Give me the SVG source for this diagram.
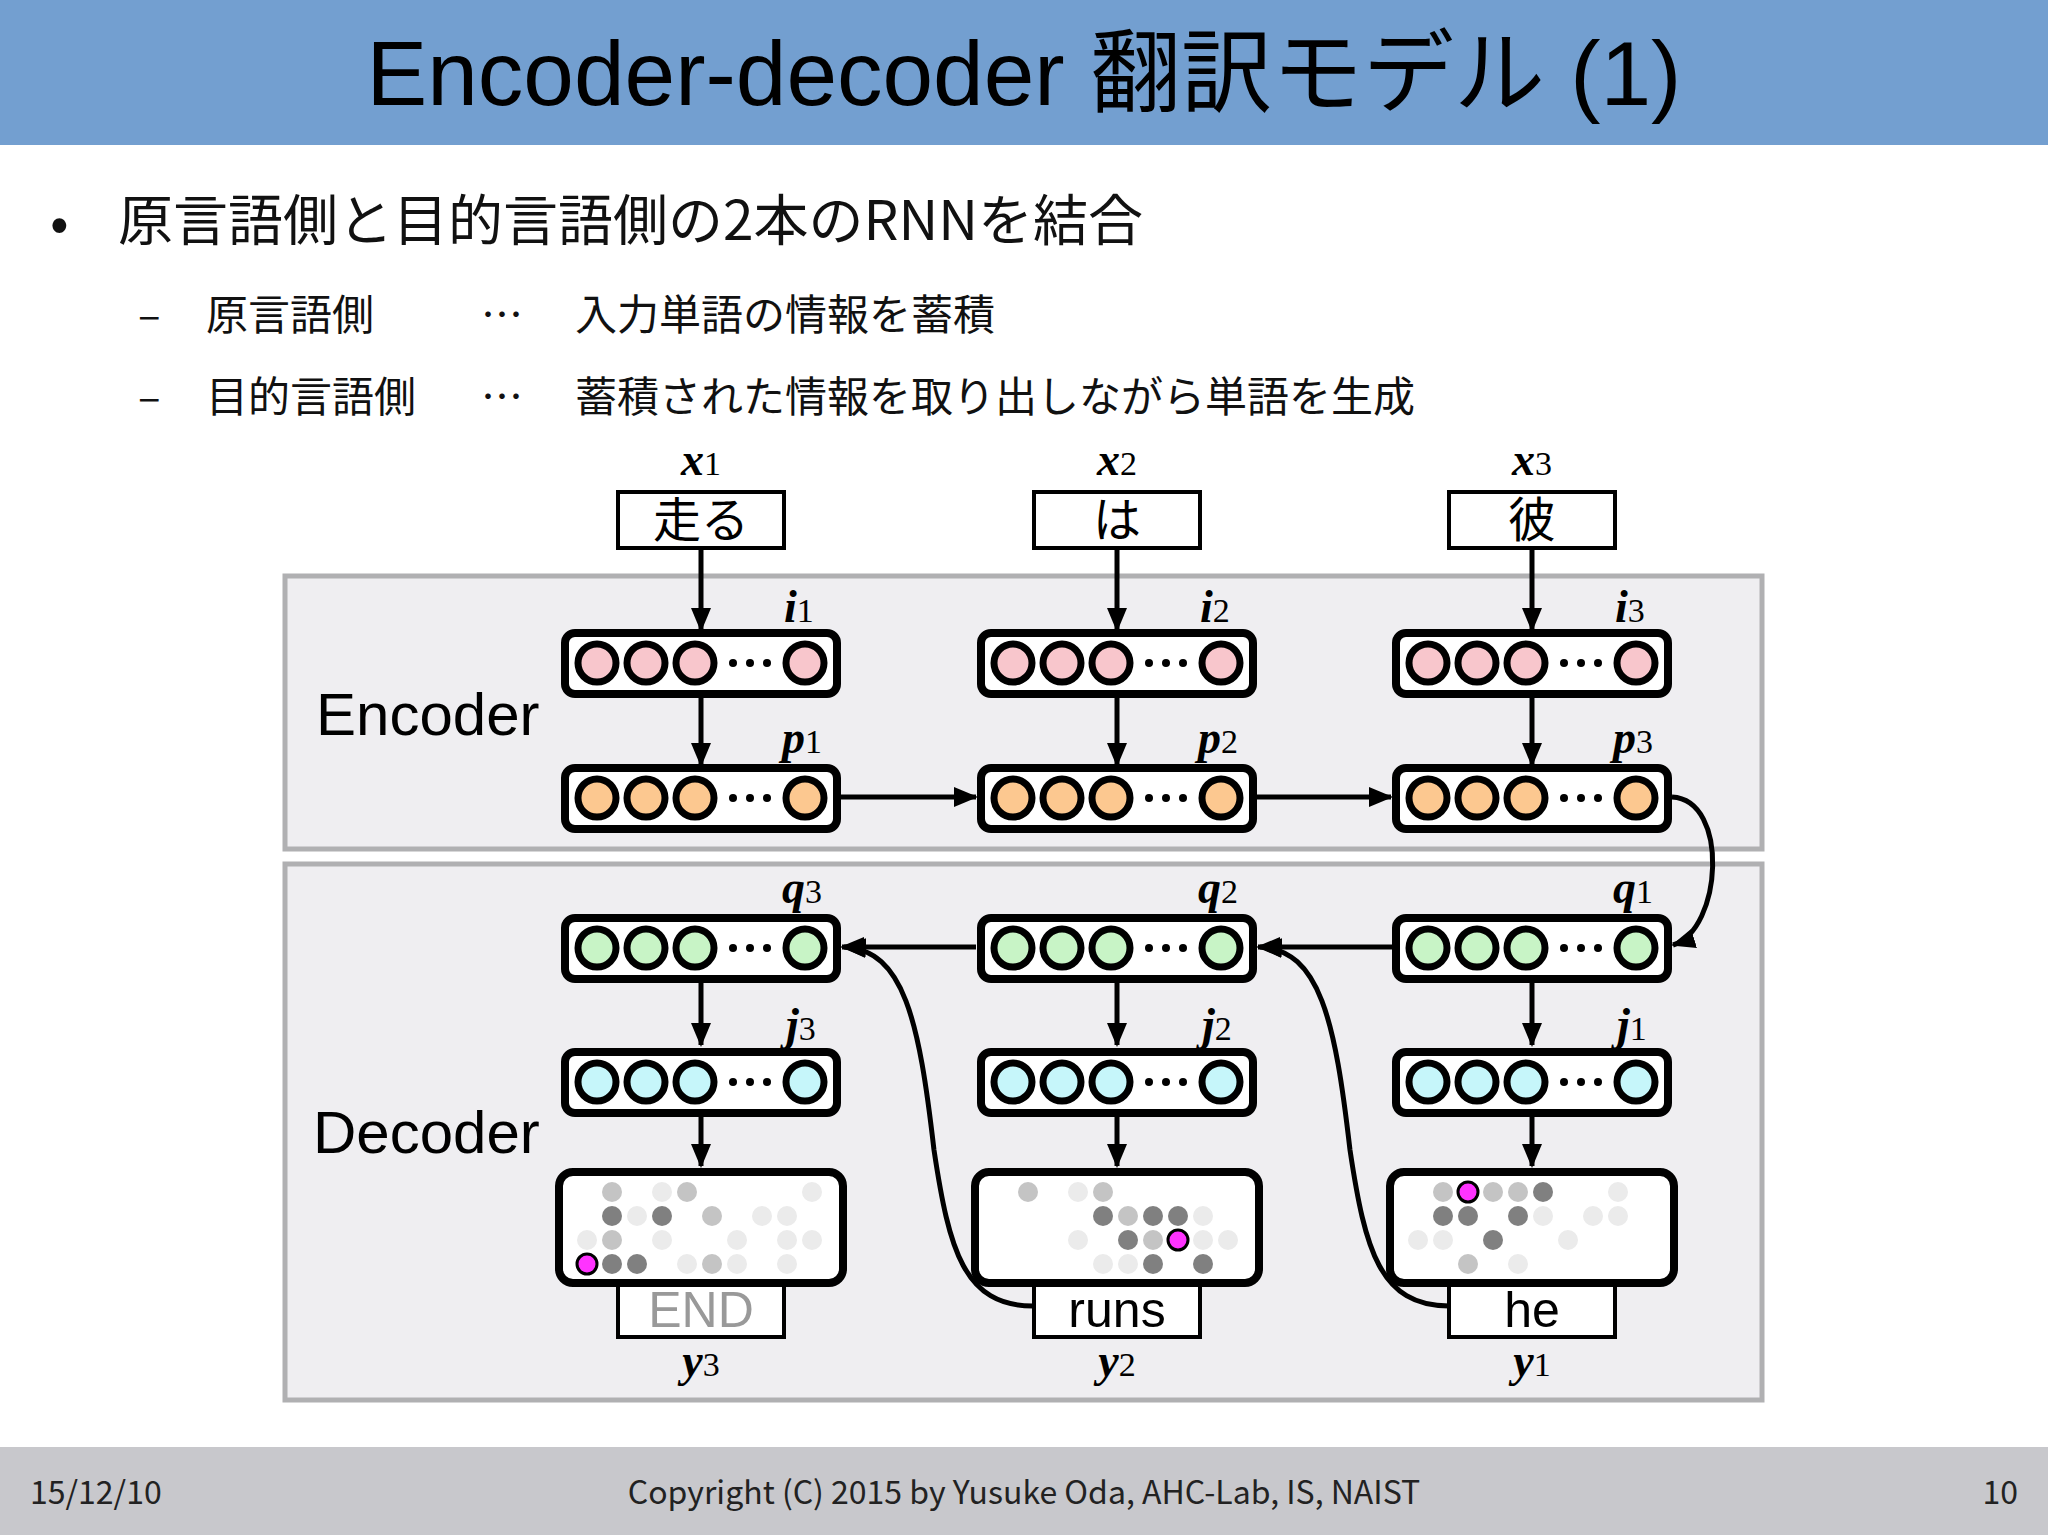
<svg xmlns="http://www.w3.org/2000/svg" xmlns:xlink="http://www.w3.org/1999/xlink" width="2048" height="1535" viewBox="0 0 2048 1535">
<style>
.sans{font-family:"Liberation Sans","Noto Sans CJK JP",sans-serif}
.jp{font-family:"Noto Sans CJK JP",sans-serif}
.math{font-family:"Liberation Serif","DejaVu Serif",serif;font-weight:bold;font-style:italic;font-size:46px}
.sub{font-weight:normal;font-style:normal;font-size:34px}
.panel{fill:#efeef1;stroke:#b0b0b2;stroke-width:5}
.ibox{fill:#fff;stroke:#000;stroke-width:4}
.arr{fill:none;stroke:#000;stroke-width:5;marker-end:url(#ah)}
.sm{fill:#fff;stroke:#000;stroke-width:8}
.d1{fill:#ebebeb}.d2{fill:#c4c4c4}.d3{fill:#808080}
.mg{fill:#ff33ff;stroke:#000;stroke-width:3}
</style>
<defs>
<marker id="ah" markerUnits="userSpaceOnUse" markerWidth="24" markerHeight="20" refX="22" refY="10" orient="auto"><path d="M0,0 L24,10 L0,20 z" fill="#000"/></marker>
<g id="vec">
<rect x="-136" y="-30" width="272" height="61" rx="10" fill="#fff" stroke="#000" stroke-width="8"/>
<circle cx="-104" cy="0" r="19" stroke="#000" stroke-width="7"/>
<circle cx="-55" cy="0" r="19" stroke="#000" stroke-width="7"/>
<circle cx="-6" cy="0" r="19" stroke="#000" stroke-width="7"/>
<circle cx="104" cy="0" r="19" stroke="#000" stroke-width="7"/>
<circle cx="32" cy="0" r="4" fill="#000"/><circle cx="49" cy="0" r="4" fill="#000"/><circle cx="66" cy="0" r="4" fill="#000"/>
</g>
</defs>
<rect width="2048" height="1535" fill="#fff"/>
<g id="header"><rect width="2048" height="145" fill="#739fd0"/>
<text x="1024" y="105" text-anchor="middle" class="sans" font-size="91" fill="#000">Encoder-decoder 翻訳モデル (1)</text></g>
<g id="footer"><rect y="1447" width="2048" height="88" fill="#c8c8cc"/>
<text x="30" y="1504" class="jp" font-size="32" fill="#222">15/12/10</text>
<text x="1024" y="1504" text-anchor="middle" class="jp" font-size="32" fill="#222">Copyright (C) 2015 by Yusuke Oda, AHC-Lab, IS, NAIST</text>
<text x="2018" y="1504" text-anchor="end" class="jp" font-size="32" fill="#222">10</text></g>
<g id="bullets" class="jp" fill="#111">
<text x="50" y="242" font-size="55">•</text>
<text x="118" y="240" font-size="55">原言語側と目的言語側の2本のRNNを結合</text>
<text x="138" y="330" font-size="42">–</text>
<text x="206" y="330" font-size="42">原言語側</text>
<text x="481" y="330" font-size="42">…</text>
<text x="575" y="330" font-size="42">入力単語の情報を蓄積</text>
<text x="138" y="412" font-size="42">–</text>
<text x="206" y="412" font-size="42">目的言語側</text>
<text x="481" y="412" font-size="42">…</text>
<text x="575" y="412" font-size="42">蓄積された情報を取り出しながら単語を生成</text>
</g>
<g id="encoder-panel"><rect x="285" y="576" width="1477" height="273" class="panel"/>
<text x="316" y="735" class="sans" font-size="60">Encoder</text></g>
<g id="decoder-panel"><rect x="285" y="864" width="1477" height="536" class="panel"/>
<text x="313" y="1153" class="sans" font-size="60">Decoder</text></g>

<g id="connectors">
<path class="arr" d="M701,548 V630"/><path class="arr" d="M1117,548 V630"/><path class="arr" d="M1532,548 V630"/>
<path class="arr" d="M701,697 V765"/><path class="arr" d="M1117,697 V765"/><path class="arr" d="M1532,697 V765"/>
<path class="arr" d="M841,797 H976"/><path class="arr" d="M1257,797 H1391"/>
<path class="arr" d="M1672,797 C1730,800 1722,930 1673,945"/>
<path class="arr" d="M1392,947 H1258"/><path class="arr" d="M976,947 H842"/>
<path class="arr" d="M1449,1306 C1380,1306 1365,1250 1350,1150 C1335,1020 1320,950 1260,947"/>
<path class="arr" d="M1033,1306 C964,1306 949,1250 934,1150 C919,1020 904,950 844,947"/>
<path class="arr" d="M701,982 V1045"/><path class="arr" d="M1117,982 V1045"/><path class="arr" d="M1532,982 V1045"/>
<path class="arr" d="M701,1116 V1166"/><path class="arr" d="M1117,1116 V1166"/><path class="arr" d="M1532,1116 V1166"/>
</g>

<g id="x1"><rect x="618" y="492" width="166" height="56" class="ibox"/><text x="701" y="537" text-anchor="middle" class="jp" font-size="48">走る</text><text x="701" y="475" text-anchor="middle" class="math">x<tspan class="sub">1</tspan></text></g>
<g id="x2"><rect x="1034" y="492" width="166" height="56" class="ibox"/><text x="1117" y="537" text-anchor="middle" class="jp" font-size="48">は</text><text x="1117" y="475" text-anchor="middle" class="math">x<tspan class="sub">2</tspan></text></g>
<g id="x3"><rect x="1449" y="492" width="166" height="56" class="ibox"/><text x="1532" y="537" text-anchor="middle" class="jp" font-size="48">彼</text><text x="1532" y="475" text-anchor="middle" class="math">x<tspan class="sub">3</tspan></text></g>

<g id="i1"><use xlink:href="#vec" x="701" y="663" fill="#f8c6cc"/><text x="784" y="622" class="math">i<tspan class="sub">1</tspan></text></g>
<g id="i2"><use xlink:href="#vec" x="1117" y="663" fill="#f8c6cc"/><text x="1200" y="622" class="math">i<tspan class="sub">2</tspan></text></g>
<g id="i3"><use xlink:href="#vec" x="1532" y="663" fill="#f8c6cc"/><text x="1615" y="622" class="math">i<tspan class="sub">3</tspan></text></g>
<g id="p1"><use xlink:href="#vec" x="701" y="798" fill="#fcc890"/><text x="782" y="753" class="math">p<tspan class="sub">1</tspan></text></g>
<g id="p2"><use xlink:href="#vec" x="1117" y="798" fill="#fcc890"/><text x="1198" y="753" class="math">p<tspan class="sub">2</tspan></text></g>
<g id="p3"><use xlink:href="#vec" x="1532" y="798" fill="#fcc890"/><text x="1613" y="753" class="math">p<tspan class="sub">3</tspan></text></g>
<g id="q3"><use xlink:href="#vec" x="701" y="948" fill="#c8f4c6"/><text x="782" y="903" class="math">q<tspan class="sub">3</tspan></text></g>
<g id="q2"><use xlink:href="#vec" x="1117" y="948" fill="#c8f4c6"/><text x="1198" y="903" class="math">q<tspan class="sub">2</tspan></text></g>
<g id="q1"><use xlink:href="#vec" x="1532" y="948" fill="#c8f4c6"/><text x="1613" y="903" class="math">q<tspan class="sub">1</tspan></text></g>
<g id="j3"><use xlink:href="#vec" x="701" y="1082" fill="#c6f6fa"/><text x="786" y="1040" class="math">j<tspan class="sub">3</tspan></text></g>
<g id="j2"><use xlink:href="#vec" x="1117" y="1082" fill="#c6f6fa"/><text x="1202" y="1040" class="math">j<tspan class="sub">2</tspan></text></g>
<g id="j1"><use xlink:href="#vec" x="1532" y="1082" fill="#c6f6fa"/><text x="1617" y="1040" class="math">j<tspan class="sub">1</tspan></text></g>

<g id="y3"><rect x="618" y="1283" width="166" height="54" class="ibox"/><text x="701" y="1327" text-anchor="middle" class="sans" font-size="50" fill="#999">END</text><text x="701" y="1376" text-anchor="middle" class="math">y<tspan class="sub">3</tspan></text>
<rect x="559" y="1172" width="284" height="111" rx="14" class="sm"/>
<g transform="translate(587,0)">
<circle cx="25" cy="1192" r="10" class="d2"/><circle cx="75" cy="1192" r="10" class="d1"/><circle cx="100" cy="1192" r="10" class="d2"/><circle cx="225" cy="1192" r="10" class="d1"/>
<circle cx="25" cy="1216" r="10" class="d3"/><circle cx="50" cy="1216" r="10" class="d1"/><circle cx="75" cy="1216" r="10" class="d3"/><circle cx="125" cy="1216" r="10" class="d2"/><circle cx="175" cy="1216" r="10" class="d1"/><circle cx="200" cy="1216" r="10" class="d1"/>
<circle cx="0" cy="1240" r="10" class="d1"/><circle cx="25" cy="1240" r="10" class="d2"/><circle cx="75" cy="1240" r="10" class="d1"/><circle cx="150" cy="1240" r="10" class="d1"/><circle cx="200" cy="1240" r="10" class="d1"/><circle cx="225" cy="1240" r="10" class="d1"/>
<circle cx="25" cy="1264" r="10" class="d3"/><circle cx="50" cy="1264" r="10" class="d3"/><circle cx="100" cy="1264" r="10" class="d1"/><circle cx="125" cy="1264" r="10" class="d2"/><circle cx="150" cy="1264" r="10" class="d1"/><circle cx="200" cy="1264" r="10" class="d1"/>
<circle cx="0" cy="1264" r="10" class="mg"/></g></g>

<g id="y2"><rect x="1034" y="1283" width="166" height="54" class="ibox"/><text x="1117" y="1327" text-anchor="middle" class="sans" font-size="50" fill="#000">runs</text><text x="1117" y="1376" text-anchor="middle" class="math">y<tspan class="sub">2</tspan></text>
<rect x="975" y="1172" width="284" height="111" rx="14" class="sm"/>
<g transform="translate(1003,0)">
<circle cx="25" cy="1192" r="10" class="d2"/><circle cx="75" cy="1192" r="10" class="d1"/><circle cx="100" cy="1192" r="10" class="d2"/>
<circle cx="100" cy="1216" r="10" class="d3"/><circle cx="125" cy="1216" r="10" class="d2"/><circle cx="150" cy="1216" r="10" class="d3"/><circle cx="175" cy="1216" r="10" class="d3"/><circle cx="200" cy="1216" r="10" class="d1"/>
<circle cx="75" cy="1240" r="10" class="d1"/><circle cx="125" cy="1240" r="10" class="d3"/><circle cx="150" cy="1240" r="10" class="d2"/><circle cx="200" cy="1240" r="10" class="d1"/><circle cx="225" cy="1240" r="10" class="d1"/>
<circle cx="100" cy="1264" r="10" class="d1"/><circle cx="125" cy="1264" r="10" class="d1"/><circle cx="150" cy="1264" r="10" class="d3"/><circle cx="200" cy="1264" r="10" class="d3"/>
<circle cx="175" cy="1240" r="10" class="mg"/></g></g>

<g id="y1"><rect x="1449" y="1283" width="166" height="54" class="ibox"/><text x="1532" y="1327" text-anchor="middle" class="sans" font-size="50" fill="#000">he</text><text x="1532" y="1376" text-anchor="middle" class="math">y<tspan class="sub">1</tspan></text>
<rect x="1390" y="1172" width="284" height="111" rx="14" class="sm"/>
<g transform="translate(1418,0)">
<circle cx="25" cy="1192" r="10" class="d2"/><circle cx="75" cy="1192" r="10" class="d2"/><circle cx="100" cy="1192" r="10" class="d2"/><circle cx="125" cy="1192" r="10" class="d3"/><circle cx="200" cy="1192" r="10" class="d1"/>
<circle cx="25" cy="1216" r="10" class="d3"/><circle cx="50" cy="1216" r="10" class="d3"/><circle cx="100" cy="1216" r="10" class="d3"/><circle cx="125" cy="1216" r="10" class="d1"/><circle cx="175" cy="1216" r="10" class="d1"/><circle cx="200" cy="1216" r="10" class="d1"/>
<circle cx="0" cy="1240" r="10" class="d1"/><circle cx="25" cy="1240" r="10" class="d1"/><circle cx="75" cy="1240" r="10" class="d3"/><circle cx="150" cy="1240" r="10" class="d1"/>
<circle cx="50" cy="1264" r="10" class="d2"/><circle cx="100" cy="1264" r="10" class="d1"/>
<circle cx="50" cy="1192" r="10" class="mg"/></g></g>
</svg>
